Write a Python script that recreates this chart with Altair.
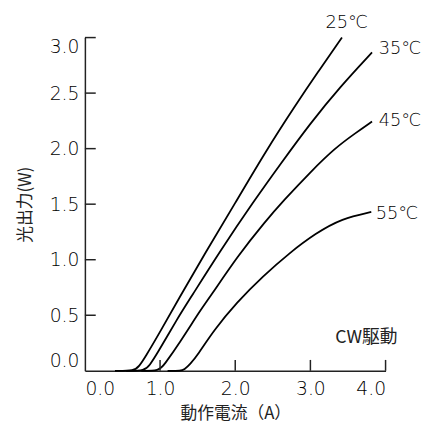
import altair as alt
import pandas as pd

FONT = "Noto Sans CJK JP"
NUMFONT = "DejaVu Sans"

# 25℃
current_25 = [0.40, 0.66, 0.72, 0.80, 1.00, 1.25, 1.60, 2.00, 2.40, 2.80, 3.10, 3.42]
power_25 = [0.00, 0.00, 0.04, 0.12, 0.35, 0.65, 1.06, 1.51, 1.97, 2.39, 2.69, 3.00]
# 35℃
current_35 = [0.55, 0.80, 0.86, 0.95, 1.23, 1.40, 1.80, 2.25, 2.60, 3.00, 3.40, 3.82]
power_35 = [0.00, 0.00, 0.05, 0.14, 0.47, 0.65, 1.08, 1.53, 1.86, 2.23, 2.56, 2.866]
# 45℃
current_45 = [0.75, 0.99, 1.05, 1.25, 1.55, 1.65, 2.04, 2.40, 2.64, 3.00, 3.33, 3.60, 3.82]
power_45 = [0.00, 0.00, 0.05, 0.24, 0.56, 0.65, 1.04, 1.345, 1.53, 1.79, 2.007, 2.14, 2.244]
# 55℃
current_55 = [1.10, 1.28, 1.32, 1.40, 1.50, 1.715, 2.02, 2.37, 2.72, 3.07, 3.42, 3.81]
power_55 = [0.00, 0.00, 0.01, 0.06, 0.142, 0.364, 0.616, 0.853, 1.06, 1.238, 1.371, 1.43]

# annotations
label_text = ["25℃", "35℃", "45℃", "55℃"]
label_x = [3.20, 3.91, 3.91, 3.87]
label_y = [3.13, 2.90, 2.25, 1.41]
note_text = ["CW駆動"]
note_x = [4.16]
note_y = [0.295]

x_ticks = [0.0, 1.0, 2.0, 3.0, 4.0]
y_ticks = [0.0, 0.5, 1.0, 1.5, 2.0, 2.5, 3.0]

rows = []
for name, xs, ys in [("25", current_25, power_25), ("35", current_35, power_35),
                     ("45", current_45, power_45), ("55", current_55, power_55)]:
    for a, b in zip(xs, ys):
        rows.append({"series": name, "current": a, "power": b})
df = pd.DataFrame(rows)

xscale = alt.Scale(domain=[0, 4], nice=False, zero=False)
yscale = alt.Scale(domain=[0, 3], nice=False, zero=False)
xaxis = alt.Axis(title="動作電流（A）", values=x_ticks, format=".1f", ticks=False,
                 grid=False, labelPadding=9, titlePadding=7)
yaxis = alt.Axis(title="光出力(W)", values=y_ticks, format=".1f", ticks=False,
                 grid=False, labelFlush=True, labelPadding=6, titlePadding=15)

lines = alt.Chart(df).mark_line(color="black", strokeWidth=1.8, interpolate="basis").encode(
    x=alt.X("current:Q", scale=xscale, axis=xaxis),
    y=alt.Y("power:Q", scale=yscale, axis=yaxis),
    detail="series:N",
)

xt = alt.Chart(pd.DataFrame({"current": x_ticks[1:]})).mark_rule(color="#222", strokeWidth=1.5).encode(
    x=alt.X("current:Q", scale=xscale, axis=xaxis),
    y=alt.value(338), y2=alt.value(327),
)
yt = alt.Chart(pd.DataFrame({"power": y_ticks[1:]})).mark_rule(color="#222", strokeWidth=1.5).encode(
    y=alt.Y("power:Q", scale=yscale, axis=yaxis),
    x=alt.value(0), x2=alt.value(11),
)

labels = alt.Chart(pd.DataFrame({"t": label_text, "current": label_x, "power": label_y})).mark_text(
    align="left", baseline="middle", font=NUMFONT, fontSize=18, fontWeight=200, color="#000"
).encode(
    x=alt.X("current:Q", scale=xscale, axis=xaxis),
    y=alt.Y("power:Q", scale=yscale, axis=yaxis),
    text="t:N",
)
note = alt.Chart(pd.DataFrame({"t": note_text, "current": note_x, "power": note_y})).mark_text(
    align="right", baseline="middle", font=FONT, fontSize=18, color="#222"
).encode(
    x=alt.X("current:Q", scale=xscale, axis=xaxis),
    y=alt.Y("power:Q", scale=yscale, axis=yaxis),
    text="t:N",
)

chart = alt.layer(lines, xt, yt, labels, note).properties(
    width=305, height=338,
    padding={"left": 78, "top": 27, "right": 40, "bottom": 52},
    autosize="none",
).configure_view(stroke=None).configure_axis(
    labelFont=NUMFONT, labelFontSize=19, labelFontWeight=200, labelColor="#000",
    titleFont=FONT, titleFontSize=17, titleFontWeight="normal", titleColor="#222",
    domainColor="#222", domainWidth=1.5,
)

chart.save("out.html", embed_options={"renderer": "svg", "actions": False})
